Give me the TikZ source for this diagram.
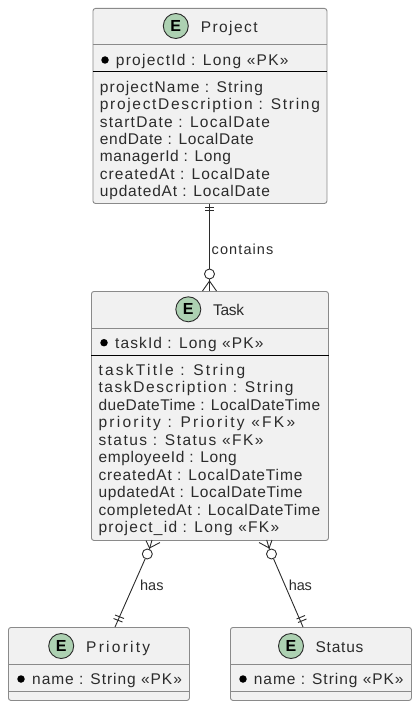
\documentclass[tikz,border=0pt]{standalone}
\usepackage{fontspec}
\setmainfont{Liberation Sans}
\usetikzlibrary{calc, positioning}
\definecolor{ENTFILL}{HTML}{F1F1F1}
\definecolor{ENTLINE}{HTML}{8A8A8A}
\definecolor{SPOTGREEN}{HTML}{ADD1B2}
\definecolor{INK}{HTML}{2B2B2B}
\newsavebox{\fitbox}
\newcommand{\fitw}[2]{%
  \sbox{\fitbox}{#2}\edef\fitlo{\the\wd\fitbox}%
  \sbox{\fitbox}{\addfontfeature{LetterSpace=10}#2}\edef\fithi{\the\wd\fitbox}%
  \pgfmathsetmacro{\fitls}{10*(#1-\fitlo)/(\fithi-\fitlo)}%
  {\addfontfeature{LetterSpace=\fitls}#2}}

\begin{document}
\begin{tikzpicture}[
    x=1pt, y=-1pt,
    entity/.style={rectangle, draw=ENTLINE, fill=ENTFILL, rounded corners=2.5pt,
                   line width=0.9pt, anchor=north west, inner sep=0pt},
    spot/.style={circle, draw=INK, fill=SPOTGREEN, line width=0.9pt, minimum size=25pt,
                 inner sep=0pt, font=\fontsize{16}{16}\selectfont\bfseries, text=black},
    title/.style={anchor=base west, inner sep=0pt, font=\fontsize{15.5}{15.5}\selectfont,
                  text=INK},
    attrs/.style={anchor=base west, inner sep=0pt, align=left, text=INK,
                  font=\fontsize{15.5}{17.45}\selectfont},
    keydot/.style={circle, fill=black, minimum size=7.5pt, inner sep=0pt},
    sep/.style={ENTLINE, line width=0.9pt},
    keysep/.style={black, line width=0.9pt},
    conn/.style={INK, line width=0.9pt},
    zero/.style={circle, draw=INK, fill=white, line width=0.9pt, minimum size=10pt, inner sep=0pt},
    lbl/.style={inner sep=0pt, anchor=base west, text=INK, font=\fontsize{14.5}{14.5}\selectfont}
  ]
  \useasboundingbox (0,0) rectangle (419,709);

  % project
  \node[entity, minimum width=234pt, minimum height=195pt] (project) at (92.5,8) {};
  \node[spot] (projectE) at (175.8,26) {E};
  \node[title] (projectT) at (200.7,32.5) {\fitw{56.7}{Project}};
  \node[keydot] (projectD) at (105,60) {};
  \node[attrs] (projectK) at (115.7,65.5) {\fitw{172.7}{projectId : Long «PK»}};
  \node[attrs, anchor=north west] (projectA) at (99.7,80.7) {\fitw{163}{projectName : String}\\
    \fitw{220}{projectDescription : String}\\
    \fitw{170}{startDate : LocalDate}\\
    \fitw{154}{endDate : LocalDate}\\
    \fitw{131}{managerId : Long}\\
    \fitw{170}{createdAt : LocalDate}\\
    \fitw{170}{updatedAt : LocalDate}};
  \draw[sep] (project.west |- 0,44.5) -- (project.east |- 0,44.5);
  \draw[keysep] (project.west |- 0,71) -- (project.east |- 0,71);

  % task
  \node[entity, minimum width=237pt, minimum height=249pt] (task) at (91,291) {};
  \node[spot] (taskE) at (188.3,309.3) {E};
  \node[title] (taskT) at (213,315.5) {\fitw{31}{Task}};
  \node[keydot] (taskD) at (104,342.7) {};
  \node[attrs] (taskK) at (115,348.5) {\fitw{148.3}{taskId : Long «PK»}};
  \node[attrs, anchor=north west] (taskA) at (98.3,364) {\fitw{146.7}{taskTitle : String}\\
    \fitw{195}{taskDescription : String}\\
    \fitw{221.7}{dueDateTime : LocalDateTime}\\
    \fitw{196.7}{priority : Priority «FK»}\\
    \fitw{165}{status : Status «FK»}\\
    \fitw{138.3}{employeeId : Long}\\
    \fitw{204}{createdAt : LocalDateTime}\\
    \fitw{204}{updatedAt : LocalDateTime}\\
    \fitw{221.7}{completedAt : LocalDateTime}\\
    \fitw{180.7}{project\_id : Long «FK»}};
  \draw[sep] (task.west |- 0,328) -- (task.east |- 0,328);
  \draw[keysep] (task.west |- 0,355) -- (task.east |- 0,355);

  % priority
  \node[entity, minimum width=181pt, minimum height=73pt] (priority) at (8,627) {};
  \node[spot] (priorityE) at (61.2,646) {E};
  \node[title] (priorityT) at (86,652) {\fitw{64}{Priority}};
  \node[keydot] (priorityD) at (21,679) {};
  \node[attrs] (priorityK) at (32,684.5) {\fitw{149.7}{name : String «PK»}};
  \draw[sep] (priority.west |- 0,664) -- (priority.east |- 0,664);
  \draw[sep] (priority.west |- 0,691) -- (priority.east |- 0,691);

  % status
  \node[entity, minimum width=181pt, minimum height=73pt] (status) at (230,627) {};
  \node[spot] (statusE) at (291,646) {E};
  \node[title] (statusT) at (315.3,652) {\fitw{48}{Status}};
  \node[keydot] (statusD) at (243,679) {};
  \node[attrs] (statusK) at (253.7,684.5) {\fitw{149.7}{name : String «PK»}};
  \draw[sep] (status.west |- 0,664) -- (status.east |- 0,664);
  \draw[sep] (status.west |- 0,691) -- (status.east |- 0,691);

  % connectors
  \node[zero] (zeroT) at (209.5,274) {};
  \draw[conn] (project.south -| zeroT) -- (zeroT);
  \node[lbl] (contains) at (211.5,254) {\fitw{61.7}{contains}};
  \draw[conn] (205,207) -- (214,207);
  \draw[conn] (205,210.5) -- (214,210.5);
  \draw[conn] (209.5,279) -- (209.5,291);
  \draw[conn] (202.5,291) -- (209.5,281) -- (216.5,291);

  \node[zero] (zeroP) at (147.3,554) {};
  \coordinate (endP) at (115,627);
  \draw[conn] (zeroP) -- (endP);
  \node[lbl] (hasP) at (140,590) {\fitw{23.3}{has}};
  \draw[conn] (152,540) -- (149.3,549.5);
  \draw[conn] (146,540.5) -- (149.5,548) -- (160,542.5);
  \draw[conn] (113.5,618.5) -- (122.5,622);
  \draw[conn] (115,615) -- (124,618.5);

  \node[zero] (zeroS) at (271.5,554) {};
  \coordinate (endS) at (303,627);
  \draw[conn] (zeroS) -- (endS);
  \node[lbl] (hasS) at (288.7,590) {\fitw{23}{has}};
  \draw[conn] (266.7,540) -- (269.5,549.5);
  \draw[conn] (259,542.5) -- (269.2,548) -- (272,540);
  \draw[conn] (298,622.5) -- (306.5,619);
  \draw[conn] (296.5,619) -- (305,615.5);
\end{tikzpicture}
\end{document}
